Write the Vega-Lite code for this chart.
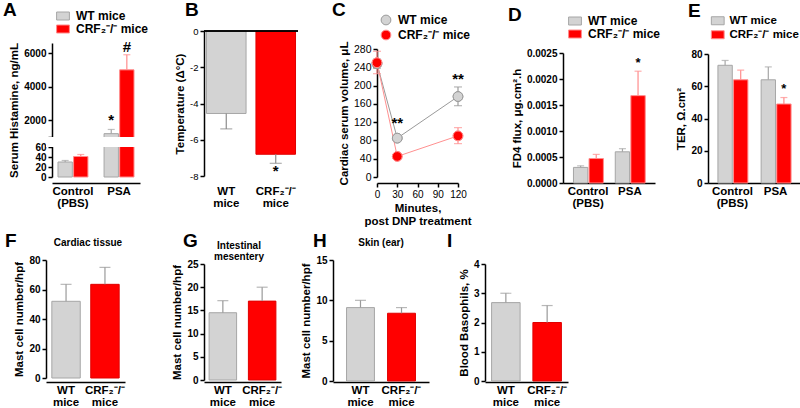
{
"$schema":"https://vega.github.io/schema/vega-lite/v6.json",
"padding":{"left":3,"top":0,"right":0,"bottom":0},
"bounds":"flush",
"columns":5,
"spacing":{"row":77,"column":35},
"resolve":{"scale":{"x":"independent","y":"independent","color":"independent","stroke":"independent","fill":"independent"},"legend":{"color":"independent"}},
"concat":[
{
"width":123,"height":152,
"data":{"values":[
{"cond":"Control (PBS)","g":"WT mice","v":30,"hi":33},
{"cond":"Control (PBS)","g":"CRF₂⁻/⁻ mice","v":41,"hi":45},
{"cond":"PSA","g":"WT mice","v":1200,"hi":1450,"star":"*","sy":2000},
{"cond":"PSA","g":"CRF₂⁻/⁻ mice","v":5000,"hi":5900,"star":"#","sy":6350}
]},
"layer":[
{"mark":{"type":"bar","strokeWidth":1},
"encoding":{
"x":{"field":"cond","type":"nominal","title":null,"scale":{"range":[6,94],"paddingInner":0.35,"paddingOuter":0.13},"axis":{"labelExpr":"datum.value == 'Control (PBS)' ? ['Control','(PBS)'] : datum.value"}},
"xOffset":{"field":"g","type":"nominal","sort":["WT mice","CRF₂⁻/⁻ mice"],"scale":{"paddingInner":0.08}},
"y":{"field":"v","type":"quantitative","title":"Serum Histamine, ng/mL","scale":{"domain":[0,60,1000,6600],"range":[146,116,106,12],"nice":false,"zero":false},"axis":{"values":[0,20,40,60,1000,2000,4000,6000],"tickCount":50,"labelExpr":"datum.value == 1000 ? '' : format(datum.value, 'd')","offset":-6,"labelFontSize":10}},
"color":{"field":"g","type":"nominal","scale":{"domain":["WT mice","CRF₂⁻/⁻ mice"],"range":["#d3d3d3","#ff0000"]},"legend":{"title":null,"orient":"none","legendX":11,"legendY":-21,"symbolType":"M-1.6,-1H1.6V1H-1.6Z","symbolSize":64,"symbolStrokeColor":"#a6a6a6"}},
"stroke":{"field":"g","type":"nominal","scale":{"domain":["WT mice","CRF₂⁻/⁻ mice"],"range":["#a6a6a6","#ff8c8c"]},"legend":null}
}},
{"data":{"values":[{}]},"mark":{"type":"rect","fill":"#ffffff"},"encoding":{"y":{"datum":60,"type":"quantitative"},"y2":{"datum":1000}}},
{"mark":{"type":"rule","strokeWidth":1.2},
"encoding":{
"x":{"field":"cond","type":"nominal","title":null},
"xOffset":{"field":"g","type":"nominal","sort":["WT mice","CRF₂⁻/⁻ mice"]},
"y":{"field":"v","type":"quantitative","title":"Serum Histamine, ng/mL"},
"y2":{"field":"hi"},
"stroke":{"field":"g","type":"nominal","legend":null}
}},
{"mark":{"type":"tick","thickness":1.2,"size":7},
"encoding":{
"x":{"field":"cond","type":"nominal","title":null},
"xOffset":{"field":"g","type":"nominal","sort":["WT mice","CRF₂⁻/⁻ mice"]},
"y":{"field":"hi","type":"quantitative","title":"Serum Histamine, ng/mL"},
"fill":{"field":"g","type":"nominal","scale":{"domain":["WT mice","CRF₂⁻/⁻ mice"],"range":["#a6a6a6","#ff8c8c"]},"legend":null}
}},
{"transform":[{"filter":"datum.star"}],
"mark":{"type":"text","fontSize":15,"fontWeight":"bold","baseline":"middle"},
"encoding":{
"x":{"field":"cond","type":"nominal","title":null},
"xOffset":{"field":"g","type":"nominal","sort":["WT mice","CRF₂⁻/⁻ mice"]},
"y":{"field":"sy","type":"quantitative","title":"Serum Histamine, ng/mL"},
"text":{"field":"star"}
}},
{"data":{"values":[{"s":"A"}]},
"mark":{"type":"text","fontSize":19,"fontWeight":"bold","align":"left","baseline":"alphabetic","dx":-104.5},
"encoding":{"y":{"datum":8208,"type":"quantitative"},"text":{"field":"s"}}}
]
},
{
"width":94,"height":152,
"data":{"values":[
{"g":"WT mice","v":-4.55,"lo":-5.4},
{"g":"CRF₂⁻/⁻ mice","v":-6.8,"lo":-7.3,"star":"*","sy":-7.75}
]},
"layer":[
{"mark":{"type":"bar","strokeWidth":1},
"encoding":{
"x":{"field":"g","type":"nominal","sort":["WT mice","CRF₂⁻/⁻ mice"],"title":null,"scale":{"range":[0,94],"paddingInner":0.2,"paddingOuter":0.05},"axis":{"domain":false,"labelExpr":"datum.value == 'WT mice' ? ['WT','mice'] : ['CRF₂⁻/⁻','mice']"}},
"y":{"field":"v","type":"quantitative","title":"Temperature (Δ°C)","scale":{"domain":[-8,0],"range":[145,0],"nice":false},"axis":{"values":[-8,-6,-4,-2,0],"tickCount":50,"format":"d","labelExpr":"replace(datum.label, '−', '-')","labelFontWeight":"normal","labelFontSize":9.5}},
"color":{"field":"g","type":"nominal","scale":{"domain":["WT mice","CRF₂⁻/⁻ mice"],"range":["#d3d3d3","#ff0000"]},"legend":null},
"stroke":{"field":"g","type":"nominal","scale":{"domain":["WT mice","CRF₂⁻/⁻ mice"],"range":["#a6a6a6","#e00000"]},"legend":null}
}},
{"mark":{"type":"rule","color":"#8c8c8c","strokeWidth":1.2},
"encoding":{
"x":{"field":"g","type":"nominal","sort":["WT mice","CRF₂⁻/⁻ mice"],"title":null},
"y":{"field":"v","type":"quantitative","title":"Temperature (Δ°C)"},
"y2":{"field":"lo"}
}},
{"mark":{"type":"tick","color":"#8c8c8c","thickness":1.2,"size":12},
"encoding":{
"x":{"field":"g","type":"nominal","sort":["WT mice","CRF₂⁻/⁻ mice"],"title":null},
"y":{"field":"lo","type":"quantitative","title":"Temperature (Δ°C)"}
}},
{"mark":{"type":"rule","color":"#000000","strokeWidth":1.5},"encoding":{"y":{"datum":0,"type":"quantitative"}}},
{"transform":[{"filter":"datum.star"}],
"mark":{"type":"text","fontSize":15,"fontWeight":"bold","baseline":"middle"},
"encoding":{
"x":{"field":"g","type":"nominal","sort":["WT mice","CRF₂⁻/⁻ mice"],"title":null},
"y":{"field":"sy","type":"quantitative","title":"Temperature (Δ°C)"},
"text":{"field":"star"}
}},
{"data":{"values":[{"s":"B"}]},
"mark":{"type":"text","fontSize":19,"fontWeight":"bold","align":"left","baseline":"alphabetic","dx":-66},
"encoding":{"y":{"datum":0.828,"type":"quantitative"},"text":{"field":"s"}}}
]
},
{
"width":117,"height":152,
"data":{"values":[
{"t":0,"g":"WT mice","v":248,"lo":238,"hi":258},
{"t":30,"g":"WT mice","v":85,"lo":80,"hi":90},
{"t":120,"g":"WT mice","v":176,"lo":156,"hi":197},
{"t":0,"g":"CRF₂⁻/⁻ mice","v":250,"lo":226,"hi":275},
{"t":30,"g":"CRF₂⁻/⁻ mice","v":45,"lo":41,"hi":49},
{"t":120,"g":"CRF₂⁻/⁻ mice","v":90,"lo":73,"hi":108}
]},
"layer":[
{"mark":{"type":"point","filled":true,"size":95,"strokeWidth":1,"opacity":1},
"encoding":{
"x":{"field":"t","type":"quantitative","title":["Minutes,","post DNP treatment"],"scale":{"domain":[0,120],"range":[44,125],"nice":false},"axis":{"values":[0,30,60,90,120],"tickCount":50,"labelFlush":false,"ticks":true,"labelFontWeight":"normal","labelFontSize":10,"titlePadding":3}},
"y":{"field":"v","type":"quantitative","title":"Cardiac serum volume, μL","scale":{"domain":[0,280],"range":[146,18],"nice":false},"axis":{"values":[0,40,80,120,160,200,240,280],"tickCount":50,"offset":-44,"labelFontWeight":"normal","labelFontSize":10.5}},
"color":{"field":"g","type":"nominal","scale":{"domain":["WT mice","CRF₂⁻/⁻ mice"],"range":["#d3d3d3","#ff0000"]},"legend":{"title":null,"orient":"none","legendX":47,"legendY":-17,"symbolType":"circle","symbolSize":95,"symbolStrokeColor":"#9a9a9a","labelOffset":6}},
"stroke":{"field":"g","type":"nominal","scale":{"domain":["WT mice","CRF₂⁻/⁻ mice"],"range":["#9a9a9a","#ff9090"]},"legend":null}
}},
{"mark":{"type":"line","strokeWidth":1},
"encoding":{
"x":{"field":"t","type":"quantitative","title":["Minutes,","post DNP treatment"]},
"y":{"field":"v","type":"quantitative","title":"Cardiac serum volume, μL"},
"stroke":{"field":"g","type":"nominal","legend":null}
}},
{"mark":{"type":"rule","strokeWidth":1.2},
"encoding":{
"x":{"field":"t","type":"quantitative","title":["Minutes,","post DNP treatment"]},
"y":{"field":"lo","type":"quantitative","title":"Cardiac serum volume, μL"},
"y2":{"field":"hi"},
"stroke":{"field":"g","type":"nominal","legend":null}
}},
{"mark":{"type":"tick","orient":"horizontal","thickness":1.2,"size":8},
"encoding":{
"x":{"field":"t","type":"quantitative","title":["Minutes,","post DNP treatment"]},
"y":{"field":"lo","type":"quantitative","title":"Cardiac serum volume, μL"},
"fill":{"field":"g","type":"nominal","scale":{"domain":["WT mice","CRF₂⁻/⁻ mice"],"range":["#9a9a9a","#ff9090"]},"legend":null}
}},
{"mark":{"type":"tick","orient":"horizontal","thickness":1.2,"size":8},
"encoding":{
"x":{"field":"t","type":"quantitative","title":["Minutes,","post DNP treatment"]},
"y":{"field":"hi","type":"quantitative","title":"Cardiac serum volume, μL"},
"fill":{"field":"g","type":"nominal","legend":null}
}},
{"mark":{"type":"point","filled":true,"size":95,"strokeWidth":1,"opacity":1},
"encoding":{
"x":{"field":"t","type":"quantitative","title":["Minutes,","post DNP treatment"]},
"y":{"field":"v","type":"quantitative","title":"Cardiac serum volume, μL"},
"color":{"field":"g","type":"nominal","legend":null},
"stroke":{"field":"g","type":"nominal","legend":null}
}},
{"data":{"values":[{"t":30,"sy":118,"s":"**"},{"t":120,"sy":214,"s":"**"}]},
"mark":{"type":"text","fontSize":15,"fontWeight":"bold","baseline":"middle"},
"encoding":{
"x":{"field":"t","type":"quantitative","title":["Minutes,","post DNP treatment"]},
"y":{"field":"sy","type":"quantitative","title":"Cardiac serum volume, μL"},
"text":{"field":"s"}
}},
{"data":{"values":[{"s":"C"}]},
"mark":{"type":"text","fontSize":19,"fontWeight":"bold","align":"left","baseline":"alphabetic","dx":-59.5},
"encoding":{"y":{"datum":352.2,"type":"quantitative"},"text":{"field":"s"}}}
]
},
{
"width":188,"height":152,
"data":{"values":[
{"cond":"Control (PBS)","g":"WT mice","v":0.0003,"hi":0.00033},
{"cond":"Control (PBS)","g":"CRF₂⁻/⁻ mice","v":0.00047,"hi":0.00055},
{"cond":"PSA","g":"WT mice","v":0.0006,"hi":0.00066},
{"cond":"PSA","g":"CRF₂⁻/⁻ mice","v":0.00168,"hi":0.00215,"star":"*","sy":0.0023}
]},
"layer":[
{"mark":{"type":"bar","strokeWidth":1},
"encoding":{
"x":{"field":"cond","type":"nominal","title":null,"scale":{"range":[78,170],"paddingInner":0.3,"paddingOuter":0.25},"axis":{"labelExpr":"datum.value == 'Control (PBS)' ? ['Control','(PBS)'] : datum.value"}},
"xOffset":{"field":"g","type":"nominal","sort":["WT mice","CRF₂⁻/⁻ mice"],"scale":{"paddingInner":0.1}},
"y":{"field":"v","type":"quantitative","title":"FD4 flux, μg.cm².h","scale":{"domain":[0,0.0025],"range":[152,22],"nice":false},"axis":{"values":[0,0.0005,0.001,0.0015,0.002,0.0025],"tickCount":50,"format":".4f","offset":-78}},
"color":{"field":"g","type":"nominal","scale":{"domain":["WT mice","CRF₂⁻/⁻ mice"],"range":["#d3d3d3","#ff0000"]},"legend":{"title":null,"orient":"none","legendX":84,"legendY":-16,"symbolType":"M-1.6,-1H1.6V1H-1.6Z","symbolSize":64,"symbolStrokeColor":"#a6a6a6"}},
"stroke":{"field":"g","type":"nominal","scale":{"domain":["WT mice","CRF₂⁻/⁻ mice"],"range":["#a6a6a6","#ff8c8c"]},"legend":null}
}},
{"mark":{"type":"rule","strokeWidth":1.2},
"encoding":{
"x":{"field":"cond","type":"nominal","title":null},
"xOffset":{"field":"g","type":"nominal","sort":["WT mice","CRF₂⁻/⁻ mice"]},
"y":{"field":"v","type":"quantitative","title":"FD4 flux, μg.cm².h"},
"y2":{"field":"hi"},
"stroke":{"field":"g","type":"nominal","legend":null}
}},
{"mark":{"type":"tick","thickness":1.2,"size":7},
"encoding":{
"x":{"field":"cond","type":"nominal","title":null},
"xOffset":{"field":"g","type":"nominal","sort":["WT mice","CRF₂⁻/⁻ mice"]},
"y":{"field":"hi","type":"quantitative","title":"FD4 flux, μg.cm².h"},
"fill":{"field":"g","type":"nominal","scale":{"domain":["WT mice","CRF₂⁻/⁻ mice"],"range":["#a6a6a6","#ff8c8c"]},"legend":null}
}},
{"transform":[{"filter":"datum.star"}],
"mark":{"type":"text","fontSize":13,"fontWeight":"bold","baseline":"middle"},
"encoding":{
"x":{"field":"cond","type":"nominal","title":null},
"xOffset":{"field":"g","type":"nominal","sort":["WT mice","CRF₂⁻/⁻ mice"]},
"y":{"field":"sy","type":"quantitative","title":"FD4 flux, μg.cm².h"},
"text":{"field":"star"}
}},
{"data":{"values":[{"s":"D"}]},
"mark":{"type":"text","fontSize":19,"fontWeight":"bold","align":"left","baseline":"alphabetic","dx":-71},
"encoding":{"y":{"datum":0.003115,"type":"quantitative"},"text":{"field":"s"}}}
]
},
{
"width":92,"height":152,
"data":{"values":[
{"cond":"Control (PBS)","g":"WT mice","v":73,"hi":76},
{"cond":"Control (PBS)","g":"CRF₂⁻/⁻ mice","v":64,"hi":70},
{"cond":"PSA","g":"WT mice","v":64,"hi":72},
{"cond":"PSA","g":"CRF₂⁻/⁻ mice","v":49,"hi":53,"star":"*","sy":58}
]},
"layer":[
{"mark":{"type":"bar","strokeWidth":1},
"encoding":{
"x":{"field":"cond","type":"nominal","title":null,"scale":{"range":[0,92],"paddingInner":0.33,"paddingOuter":0.23},"axis":{"labelExpr":"datum.value == 'Control (PBS)' ? ['Control','(PBS)'] : datum.value"}},
"xOffset":{"field":"g","type":"nominal","sort":["WT mice","CRF₂⁻/⁻ mice"],"scale":{"paddingInner":0.1}},
"y":{"field":"v","type":"quantitative","title":"TER, Ω.cm²","scale":{"domain":[0,80],"range":[152,23],"nice":false},"axis":{"values":[0,20,40,60,80],"tickCount":50,"format":"d"}},
"color":{"field":"g","type":"nominal","scale":{"domain":["WT mice","CRF₂⁻/⁻ mice"],"range":["#d3d3d3","#ff0000"]},"legend":{"title":null,"orient":"none","legendX":4,"legendY":-16,"symbolType":"M-1.6,-1H1.6V1H-1.6Z","symbolSize":64,"symbolStrokeColor":"#a6a6a6","labelFontSize":11.5,"labelOffset":6}},
"stroke":{"field":"g","type":"nominal","scale":{"domain":["WT mice","CRF₂⁻/⁻ mice"],"range":["#a6a6a6","#ff8c8c"]},"legend":null}
}},
{"mark":{"type":"rule","strokeWidth":1.2},
"encoding":{
"x":{"field":"cond","type":"nominal","title":null},
"xOffset":{"field":"g","type":"nominal","sort":["WT mice","CRF₂⁻/⁻ mice"]},
"y":{"field":"v","type":"quantitative","title":"TER, Ω.cm²"},
"y2":{"field":"hi"},
"stroke":{"field":"g","type":"nominal","legend":null}
}},
{"mark":{"type":"tick","thickness":1.2,"size":7},
"encoding":{
"x":{"field":"cond","type":"nominal","title":null},
"xOffset":{"field":"g","type":"nominal","sort":["WT mice","CRF₂⁻/⁻ mice"]},
"y":{"field":"hi","type":"quantitative","title":"TER, Ω.cm²"},
"fill":{"field":"g","type":"nominal","scale":{"domain":["WT mice","CRF₂⁻/⁻ mice"],"range":["#a6a6a6","#ff8c8c"]},"legend":null}
}},
{"transform":[{"filter":"datum.star"}],
"mark":{"type":"text","fontSize":13,"fontWeight":"bold","baseline":"middle"},
"encoding":{
"x":{"field":"cond","type":"nominal","title":null},
"xOffset":{"field":"g","type":"nominal","sort":["WT mice","CRF₂⁻/⁻ mice"]},
"y":{"field":"sy","type":"quantitative","title":"TER, Ω.cm²"},
"text":{"field":"star"}
}},
{"data":{"values":[{"s":"E"}]},
"mark":{"type":"text","fontSize":19,"fontWeight":"bold","align":"left","baseline":"alphabetic","dx":-66},
"encoding":{"y":{"datum":102.9,"type":"quantitative"},"text":{"field":"s"}}}
]
},
{
"width":123,"height":122,
"data":{"values":[{"g":"WT mice","v":52,"hi":63.5},{"g":"CRF₂⁻/⁻ mice","v":63.5,"hi":75}]},
"layer":[
{"mark":{"type":"bar","strokeWidth":1},
"encoding":{
"x":{"field":"g","type":"nominal","sort":["WT mice","CRF₂⁻/⁻ mice"],"title":null,"scale":{"range":[0,79],"paddingInner":0.27,"paddingOuter":0.15},"axis":{"labelExpr":"datum.value == 'WT mice' ? ['WT','mice'] : ['CRF₂⁻/⁻','mice']"}},
"y":{"field":"v","type":"quantitative","title":"Mast cell number/hpf","scale":{"domain":[0,80],"range":[118,0],"nice":false},"axis":{"values":[0,20,40,60,80],"tickCount":50,"format":"d"}},
"color":{"field":"g","type":"nominal","scale":{"domain":["WT mice","CRF₂⁻/⁻ mice"],"range":["#d3d3d3","#ff0000"]},"legend":null},
"stroke":{"field":"g","type":"nominal","scale":{"domain":["WT mice","CRF₂⁻/⁻ mice"],"range":["#a6a6a6","#e00000"]},"legend":null}
}},
{"mark":{"type":"rule","color":"#9a9a9a","strokeWidth":1.2},
"encoding":{
"x":{"field":"g","type":"nominal","sort":["WT mice","CRF₂⁻/⁻ mice"],"title":null},
"y":{"field":"v","type":"quantitative","title":"Mast cell number/hpf"},
"y2":{"field":"hi"}
}},
{"mark":{"type":"tick","color":"#9a9a9a","thickness":1.2,"size":11},
"encoding":{
"x":{"field":"g","type":"nominal","sort":["WT mice","CRF₂⁻/⁻ mice"],"title":null},
"y":{"field":"hi","type":"quantitative","title":"Mast cell number/hpf"}
}},
{"data":{"values":[{"s":"Cardiac tissue"}]},
"mark":{"type":"text","fontSize":10,"fontWeight":"bold","baseline":"bottom","dx":-19.5},
"encoding":{"y":{"datum":88,"type":"quantitative"},"text":{"field":"s"}}},
{"data":{"values":[{"s":"F"}]},
"mark":{"type":"text","fontSize":19,"fontWeight":"bold","align":"left","baseline":"alphabetic","dx":-102.5},
"encoding":{"y":{"datum":88.8,"type":"quantitative"},"text":{"field":"s"}}}
]
},
{
"width":94,"height":122,
"data":{"values":[{"g":"WT mice","v":14.5,"hi":17.1},{"g":"CRF₂⁻/⁻ mice","v":17,"hi":20}]},
"layer":[
{"mark":{"type":"bar","strokeWidth":1},
"encoding":{
"x":{"field":"g","type":"nominal","sort":["WT mice","CRF₂⁻/⁻ mice"],"title":null,"scale":{"range":[0,77],"paddingInner":0.3,"paddingOuter":0.13},"axis":{"labelExpr":"datum.value == 'WT mice' ? ['WT','mice'] : ['CRF₂⁻/⁻','mice']"}},
"y":{"field":"v","type":"quantitative","title":"Mast cell number/hpf","scale":{"domain":[0,25],"range":[120,4],"nice":false},"axis":{"values":[0,5,10,15,20,25],"tickCount":50,"format":"d"}},
"color":{"field":"g","type":"nominal","scale":{"domain":["WT mice","CRF₂⁻/⁻ mice"],"range":["#d3d3d3","#ff0000"]},"legend":null},
"stroke":{"field":"g","type":"nominal","scale":{"domain":["WT mice","CRF₂⁻/⁻ mice"],"range":["#a6a6a6","#e00000"]},"legend":null}
}},
{"mark":{"type":"rule","color":"#9a9a9a","strokeWidth":1.2},
"encoding":{
"x":{"field":"g","type":"nominal","sort":["WT mice","CRF₂⁻/⁻ mice"],"title":null},
"y":{"field":"v","type":"quantitative","title":"Mast cell number/hpf"},
"y2":{"field":"hi"}
}},
{"mark":{"type":"tick","color":"#9a9a9a","thickness":1.2,"size":11},
"encoding":{
"x":{"field":"g","type":"nominal","sort":["WT mice","CRF₂⁻/⁻ mice"],"title":null},
"y":{"field":"hi","type":"quantitative","title":"Mast cell number/hpf"}
}},
{"data":{"values":[{"s":"Intestinal\nmesentery"}]},
"mark":{"type":"text","fontSize":10,"fontWeight":"bold","baseline":"bottom","lineBreak":"\n","lineHeight":11,"dx":-12},
"encoding":{"y":{"datum":27.8,"type":"quantitative"},"text":{"field":"s"}}},
{"data":{"values":[{"s":"G"}]},
"mark":{"type":"text","fontSize":19,"fontWeight":"bold","align":"left","baseline":"alphabetic","dx":-68},
"encoding":{"y":{"datum":28.66,"type":"quantitative"},"text":{"field":"s"}}}
]
},
{
"width":117,"height":122,
"data":{"values":[{"g":"WT mice","v":9.1,"hi":10},{"g":"CRF₂⁻/⁻ mice","v":8.4,"hi":9.1}]},
"layer":[
{"mark":{"type":"bar","strokeWidth":1},
"encoding":{
"x":{"field":"g","type":"nominal","sort":["WT mice","CRF₂⁻/⁻ mice"],"title":null,"scale":{"range":[0,96],"paddingInner":0.32,"paddingOuter":0.33},"axis":{"labelExpr":"datum.value == 'WT mice' ? ['WT','mice'] : ['CRF₂⁻/⁻','mice']"}},
"y":{"field":"v","type":"quantitative","title":"Mast cell number/hpf","scale":{"domain":[0,15],"range":[121,0],"nice":false},"axis":{"values":[0,5,10,15],"tickCount":50,"format":"d"}},
"color":{"field":"g","type":"nominal","scale":{"domain":["WT mice","CRF₂⁻/⁻ mice"],"range":["#d3d3d3","#ff0000"]},"legend":null},
"stroke":{"field":"g","type":"nominal","scale":{"domain":["WT mice","CRF₂⁻/⁻ mice"],"range":["#a6a6a6","#e00000"]},"legend":null}
}},
{"mark":{"type":"rule","color":"#9a9a9a","strokeWidth":1.2},
"encoding":{
"x":{"field":"g","type":"nominal","sort":["WT mice","CRF₂⁻/⁻ mice"],"title":null},
"y":{"field":"v","type":"quantitative","title":"Mast cell number/hpf"},
"y2":{"field":"hi"}
}},
{"mark":{"type":"tick","color":"#9a9a9a","thickness":1.2,"size":11},
"encoding":{
"x":{"field":"g","type":"nominal","sort":["WT mice","CRF₂⁻/⁻ mice"],"title":null},
"y":{"field":"hi","type":"quantitative","title":"Mast cell number/hpf"}
}},
{"data":{"values":[{"s":"Skin  (ear)"}]},
"mark":{"type":"text","fontSize":10,"fontWeight":"bold","baseline":"bottom","dx":-10.5},
"encoding":{"y":{"datum":16.5,"type":"quantitative"},"text":{"field":"s"}}},
{"data":{"values":[{"s":"H"}]},
"mark":{"type":"text","fontSize":19,"fontWeight":"bold","align":"left","baseline":"alphabetic","dx":-78.5},
"encoding":{"y":{"datum":16.6,"type":"quantitative"},"text":{"field":"s"}}}
]
},
{
"width":188,"height":122,
"data":{"values":[{"g":"WT mice","v":2.68,"hi":3.0},{"g":"CRF₂⁻/⁻ mice","v":2.0,"hi":2.58}]},
"layer":[
{"mark":{"type":"bar","strokeWidth":1},
"encoding":{
"x":{"field":"g","type":"nominal","sort":["WT mice","CRF₂⁻/⁻ mice"],"title":null,"scale":{"range":[0,83],"paddingInner":0.31,"paddingOuter":0.16},"axis":{"labelExpr":"datum.value == 'WT mice' ? ['WT','mice'] : ['CRF₂⁻/⁻','mice']"}},
"y":{"field":"v","type":"quantitative","title":"Blood Basophils, %","scale":{"domain":[0,4],"range":[121,4],"nice":false},"axis":{"values":[0,1,2,3,4],"tickCount":50,"format":"d"}},
"color":{"field":"g","type":"nominal","scale":{"domain":["WT mice","CRF₂⁻/⁻ mice"],"range":["#d3d3d3","#ff0000"]},"legend":null},
"stroke":{"field":"g","type":"nominal","scale":{"domain":["WT mice","CRF₂⁻/⁻ mice"],"range":["#a6a6a6","#e00000"]},"legend":null}
}},
{"mark":{"type":"rule","color":"#9a9a9a","strokeWidth":1.2},
"encoding":{
"x":{"field":"g","type":"nominal","sort":["WT mice","CRF₂⁻/⁻ mice"],"title":null},
"y":{"field":"v","type":"quantitative","title":"Blood Basophils, %"},
"y2":{"field":"hi"}
}},
{"mark":{"type":"tick","color":"#9a9a9a","thickness":1.2,"size":11},
"encoding":{
"x":{"field":"g","type":"nominal","sort":["WT mice","CRF₂⁻/⁻ mice"],"title":null},
"y":{"field":"hi","type":"quantitative","title":"Blood Basophils, %"}
}},
{"data":{"values":[{"s":"I"}]},
"mark":{"type":"text","fontSize":19,"fontWeight":"bold","align":"left","baseline":"alphabetic","dx":-132},
"encoding":{"y":{"datum":4.58,"type":"quantitative"},"text":{"field":"s"}}}
]
}
],
"config":{
"font":"Liberation Sans",
"view":{"stroke":null},
"axis":{"domainColor":"#000000","domainWidth":1.5,"tickColor":"#000000","tickWidth":1.5,"tickSize":4,"labelColor":"#000000","labelFontSize":10,"labelFontWeight":"bold","labelOverlap":false,"titleColor":"#000000","titleFontSize":11.5,"titleFontWeight":"bold","grid":false,"labelPadding":2,"titlePadding":4},
"axisBand":{"ticks":false,"labelFontSize":11.5,"labelLineHeight":12,"labelAngle":0,"labelPadding":2},
"legend":{"labelFontSize":12,"labelFontWeight":"bold","labelColor":"#000000","rowPadding":1,"symbolStrokeWidth":1,"padding":0,"labelOffset":7}
}
}
